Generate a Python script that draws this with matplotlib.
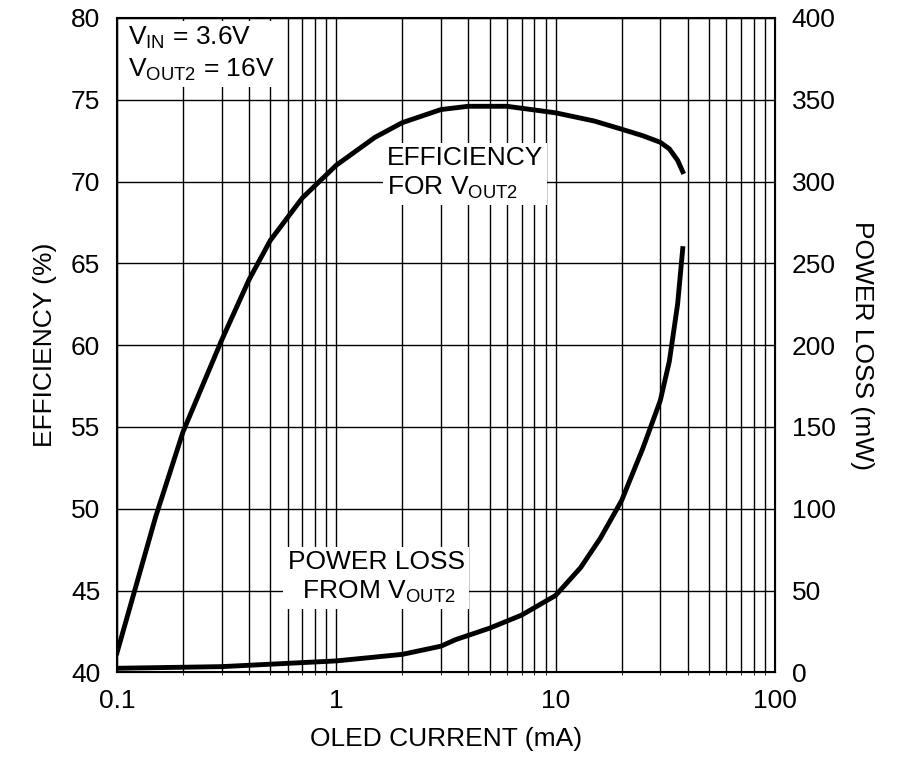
import numpy as np
import matplotlib.pyplot as plt
from matplotlib.ticker import FixedLocator, NullFormatter

plt.rcParams['font.family'] = ['Liberation Sans', 'DejaVu Sans']

eff_current = [0.1, 0.15, 0.2, 0.3, 0.4, 0.5, 0.7, 1, 1.5, 2, 3, 4, 6, 10, 15, 20, 25, 30, 33, 36, 38]
eff_values = [41.2, 49.5, 54.7, 60.3, 64.0, 66.4, 69.0, 71.0, 72.7, 73.6, 74.4, 74.6, 74.6, 74.2, 73.7, 73.2, 72.8, 72.4, 72.0, 71.3, 70.6]

loss_current = [0.1, 0.3, 1, 2, 3, 3.5, 5, 7, 10, 13, 16, 20, 25, 30, 33, 36, 38]
loss_values = [2.5, 3.5, 7, 11, 16, 20, 27, 35, 47, 64, 82, 105, 137, 166, 190, 225, 259]

fig = plt.figure(figsize=(9, 7.8), dpi=100)
ax = fig.add_axes([0.13, 0.138, 0.731, 0.839])
ax.set_xscale('log')
ax.set_xlim(0.1, 100)
ax.set_ylim(40, 80)
ax.set_yticks(range(40, 81, 5))
ax.xaxis.set_minor_locator(FixedLocator([m * 10.0 ** e for e in range(-1, 2) for m in range(2, 10)]))
ax.xaxis.set_minor_formatter(NullFormatter())
ax.set_xticks([0.1, 1, 10, 100])
ax.set_xticklabels(['0.1', '1', '10', '100'])
ax.grid(True, which='both', color='black', linewidth=1.0)
ax.tick_params(labelsize=19, length=0, pad=12)
for s in ax.spines.values():
    s.set_linewidth(1.5)
ax.set_xlabel('OLED CURRENT (mA)', fontsize=19, labelpad=10)
ax.set_ylabel('EFFICIENCY (%)', fontsize=19, labelpad=10)

ax2 = ax.twinx()
ax2.set_ylim(0, 400)
ax2.set_yticks(range(0, 401, 50))
ax2.tick_params(labelsize=19, length=0, pad=12)
ax2.set_ylabel('POWER LOSS (mW)', fontsize=19, rotation=270, labelpad=28)

ax.plot(eff_current, eff_values, color='black', linewidth=3.5, zorder=5)
ax2.plot(loss_current, loss_values, color='black', linewidth=3.5, zorder=5)

box = dict(facecolor='white', edgecolor='none', pad=3)
ax.text(0.112, 77.8, 'V$_{\\mathregular{IN}}$ = 3.6V\nV$_{\\mathregular{OUT2}}$ = 16V', fontsize=19,
        va='center', ha='left', bbox=box, zorder=6, linespacing=1.25)
ax.text(1.7, 70.5, 'EFFICIENCY\nFOR V$_{\\mathregular{OUT2}}$', fontsize=19, va='center', ha='left',
        bbox=box, zorder=6, linespacing=1.25)
ax.text(0.6, 45.8, 'POWER LOSS\n  FROM V$_{\\mathregular{OUT2}}$', fontsize=19, va='center', ha='left',
        bbox=box, zorder=6, linespacing=1.25)

fig.savefig('out.png', dpi=100)
